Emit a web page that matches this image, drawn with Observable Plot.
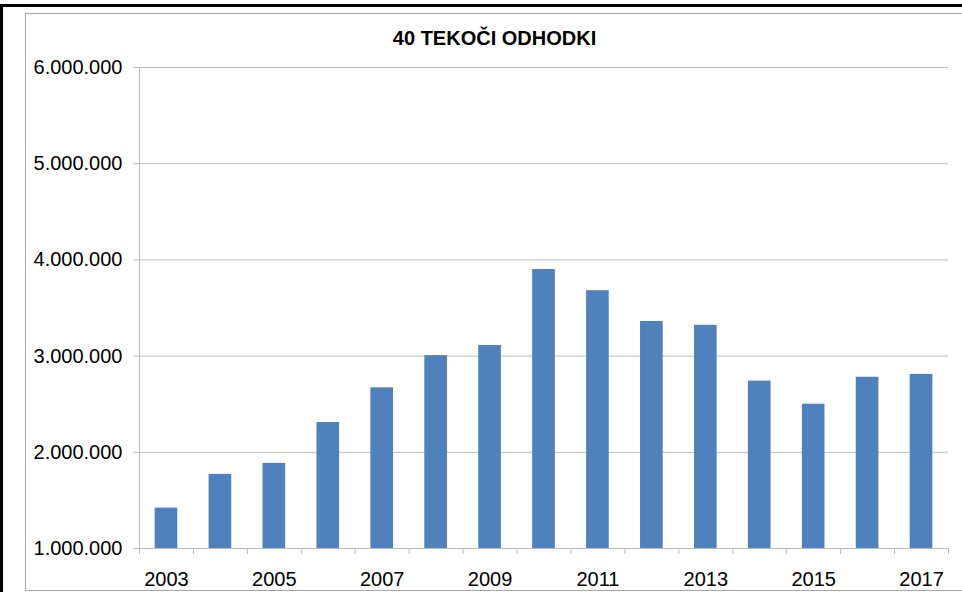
<!DOCTYPE html>
<html>
<head>
<meta charset="utf-8">
<script src="https://cdn.jsdelivr.net/npm/d3@7"></script>
<script src="https://cdn.jsdelivr.net/npm/@observablehq/plot@0.6"></script>
<style>
  html, body { margin: 0; padding: 0; background: #fff; }
  #wrap { position: relative; width: 962px; height: 592px; overflow: hidden; background: #fff; }
  #outer { position: absolute; left: 0; top: 4px; width: 980px; height: 600px; border-left: 3px solid #000; border-top: 3px solid #000; box-sizing: border-box; }
  #inner { position: absolute; left: 25px; top: 13px; width: 960px; height: 578px; border: 1px solid #a6a6a6; border-right: none; box-sizing: border-box; }
  #chart { position: absolute; left: 0; top: 0; }
  #chart svg { background: transparent; }
</style>
</head>
<body>
<div id="wrap">
  <div id="outer"></div>
  <div id="inner"></div>
  <div id="chart"></div>
</div>
<script>
const title = "40 TEKOČI ODHODKI";
const years = [2003, 2004, 2005, 2006, 2007, 2008, 2009, 2010, 2011, 2012, 2013, 2014, 2015, 2016, 2017];
const values = [1420000, 1770000, 1885000, 2310000, 2670000, 3005000, 3110000, 3900000, 3680000, 3360000, 3320000, 2740000, 2500000, 2780000, 2810000];
const yTicks = [1000000, 2000000, 3000000, 4000000, 5000000, 6000000];
const xLabelYears = [2003, 2005, 2007, 2009, 2011, 2013, 2015, 2017];

const data = years.map((year, i) => ({year, value: values[i]}));
const boundaries = d3.range(years.length + 1).map(i => years[0] - 0.5 + i);
const half = 0.21;
const fmt = d => d3.format(",")(d).replace(/,/g, ".");
const gray = "#bcbcbc";

const chart = Plot.plot({
  width: 962,
  height: 592,
  marginLeft: 139,
  marginRight: 14,
  marginTop: 67,
  marginBottom: 44,
  style: {fontFamily: "'Liberation Sans', Arial, sans-serif", fontSize: "20px", color: "#000", background: "transparent"},
  x: {type: "linear", domain: [years[0] - 0.5, years[years.length - 1] + 0.5]},
  y: {domain: [yTicks[0], yTicks[yTicks.length - 1]]},
  marks: [
    Plot.gridY(yTicks, {stroke: gray, strokeOpacity: 1}),
    Plot.ruleX([years[0] - 0.5], {stroke: gray}),
    Plot.rectY(data, {x1: d => d.year - half, x2: d => d.year + half, y1: () => yTicks[0], y2: "value", fill: "#4f81bd"}),
    Plot.ruleY([yTicks[0]], {stroke: gray}),
    Plot.axisY({ticks: yTicks, tickSize: 6, tickPadding: 11, tickFormat: fmt, stroke: gray, fill: "#000", label: null}),
    Plot.axisX({ticks: boundaries, tickSize: 6, tickFormat: () => "", stroke: gray, label: null}),
    Plot.axisX({ticks: xLabelYears, tickSize: 0, tickPadding: 23, tickFormat: d => String(d), fill: "#000", label: null}),
    Plot.text([title], {frameAnchor: "top", dx: -49.5, dy: -23, lineAnchor: "bottom", fontWeight: "bold", fontSize: 20, fill: "#000"})
  ]
});
document.getElementById("chart").appendChild(chart);
</script>
</body>
</html>
